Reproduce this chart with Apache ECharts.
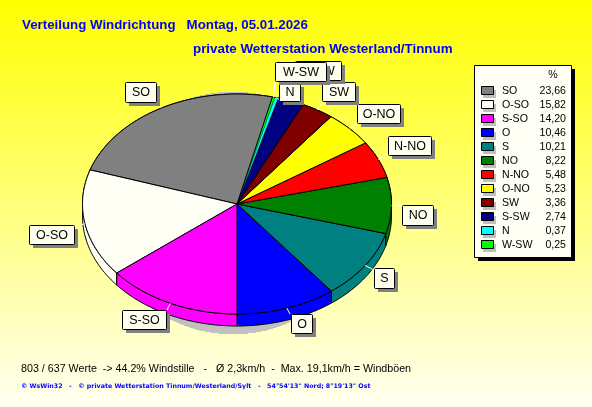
<!DOCTYPE html>
<html><head><meta charset="utf-8">
<style>html,body{margin:0;padding:0;background:#fff}#c{width:592px;height:407px}</style>
<script src="https://cdn.jsdelivr.net/npm/echarts@6/dist/echarts.min.js"></script>
</head><body><div id="c"></div>
<script>
// ---- data ----
const legendOrder = ['SO','O-SO','S-SO','O','S','NO','N-NO','O-NO','SW','S-SW','N','W-SW'];
const legendValues = ['23,66','15,82','14,20','10,46','10,21','8,22','5,48','5,23','3,36','2,74','0,37','0,25'];
const sliceOrder = ['O','S','NO','N-NO','O-NO','SW','S-SW','N','W-SW','SO','O-SO','S-SO'];
const shares = {'SO':23.66,'O-SO':15.82,'S-SO':14.20,'O':10.46,'S':10.21,'NO':8.22,'N-NO':5.48,'O-NO':5.23,'SW':3.36,'S-SW':2.74,'N':0.37,'W-SW':0.25};
const titleLine1 = 'Verteilung Windrichtung   Montag, 05.01.2026';
const titleLine2 = 'private Wetterstation Westerland/Tinnum';
const footerLine1 = '803 / 637 Werte  -> 44.2% Windstille   -   Ø 2,3km/h  -  Max. 19,1km/h = Windböen';
const footerLine2 = '© WsWin32   -   © private Wetterstation Tinnum/Westerland/Sylt   -   54°54\'13" Nord; 8°19\'13" Ost';

// ---- styles / layout ----
const colors = {'SO':'#808080','O-SO':'#fffff5','S-SO':'#ff00ff','O':'#0000ff','S':'#008080','NO':'#008000','N-NO':'#ff0000','O-NO':'#ffff00','SW':'#800000','S-SW':'#000080','N':'#00ffff','W-SW':'#00ff00'};
const labelBoxes = { // x0,y0,x1,y1, leader end x,y
 'O':[291,314,312,333,290,314],'S':[374,268,394,288,374,270],'NO':[402,205,433,225,402,205],
 'N-NO':[388,136,431,155,388,153],'O-NO':[357,104,400,123,357,124],'SW':[322,82,355,101,323,101],
 'S-SW':[295,61,341,80,305,80],'N':[279,83,300,101,281,101],'W-SW':[275,62,326,81,275,81],
 'SO':[125,82,156,102,156,101],'O-SO':[29,225,74,244,74,226],'S-SO':[122,310,166,329,167,310]
};
const FONT='"Liberation Sans",Arial,sans-serif';
const DEPTH=12;
const cx=237, cy=204, rx=154.5, ry=110;

const total=sliceOrder.reduce((s,n)=>s+shares[n],0);
let acc=0;
const sliceData=sliceOrder.map((n,i)=>{const a=acc/total*2*Math.PI;acc+=shares[n];return [a,acc/total*2*Math.PI,i];});

function rim(api,t){return api.coord([Math.sin(t),Math.cos(t)]);}
function arcPts(api,a,b){const n=Math.max(2,Math.ceil((b-a)/0.02));const p=[];for(let i=0;i<=n;i++)p.push(rim(api,a+(b-a)*i/n));return p;}

const renderWall=(params,api)=>{
  const a=api.value(0),b=api.value(1),c=colors[sliceOrder[api.value(2)]];
  const top=arcPts(api,a,b);
  const low=top.map(p=>[p[0],p[1]+DEPTH]).reverse();
  return {type:'polygon',shape:{points:top.concat(low)},style:{fill:c,stroke:'#000',lineWidth:1}};
};
const renderTop=(params,api)=>{
  const a=api.value(0),b=api.value(1),n=sliceOrder[api.value(2)],c=colors[n];
  const pts=[api.coord([0,0])].concat(arcPts(api,a,b));
  return {type:'polygon',shape:{points:pts},style:{fill:c,stroke:'#000',lineWidth:shares[n]<1?0.35:1}};
};
const renderShadow=(params,api)=>{
  const c=api.coord([0,0]);
  const p=[];for(let i=0;i<120;i++){const t=i/120*2*Math.PI;p.push([c[0]-4+130*Math.sin(t),c[1]+9+121*Math.cos(t)]);}
  return {type:'polygon',shape:{points:p},style:{fill:'#c0c0c0'}};
};
const renderLeader=(params,api)=>{
  const a=api.value(0),b=api.value(1),n=sliceOrder[api.value(2)],m=rim(api,(a+b)/2),l=labelBoxes[n];
  return {type:'line',shape:{x1:m[0],y1:m[1],x2:l[4],y2:l[5]},style:{stroke:'#fff',lineWidth:1}};
};
const renderLabel=(params,api)=>{
  const n=sliceOrder[api.value(2)],l=labelBoxes[n];
  const w=l[2]-l[0],h=l[3]-l[1];
  return {type:'group',children:[
    {type:'rect',shape:{x:l[0]+4,y:l[1]+4,width:w,height:h},style:{fill:'#808080'}},
    {type:'rect',shape:{x:l[0]+.5,y:l[1]+.5,width:w,height:h,r:1},style:{fill:'#fffff0',stroke:'#000',lineWidth:1}},
    {type:'text',style:{x:l[0]+w/2+.5,y:l[1]+h/2+1,text:n,fill:'#000',font:'12.5px '+FONT,align:'center',verticalAlign:'middle'}}
  ]};
};
const custom=(renderItem,z)=>({type:'custom',coordinateSystem:'cartesian2d',renderItem,data:sliceData,clip:false,silent:true,z,animation:false,encode:{x:0,y:1}});

// legend drawn from the arrays
const LX=474,LY=65,LR=571,LB=257,ROW0=91,ROWH=14;
const g=[];
const txt=(x,y,text,o)=>({type:'text',silent:true,x,y,style:Object.assign({text,fill:'#000',font:'10.6px '+FONT,verticalAlign:'middle'},o||{}),z:20});
g.push({type:'rect',silent:true,shape:{x:LX+4,y:LY+4,width:LR-LX,height:LB-LY},style:{fill:'#000'},z:18});
g.push({type:'rect',silent:true,shape:{x:LX+.5,y:LY+.5,width:LR-LX,height:LB-LY},style:{fill:'#fffff5',stroke:'#000',lineWidth:1},z:19});
g.push(txt(553,75,'%',{align:'center',font:'10.6px '+FONT}));
legendOrder.forEach((n,i)=>{
  const y=ROW0+i*ROWH;
  g.push({type:'rect',silent:true,shape:{x:483,y:y-1,width:13,height:8},style:{fill:'#c0c0c0'},z:20});
  g.push({type:'rect',silent:true,shape:{x:481.5,y:y-4.5,width:12,height:8},style:{fill:colors[n],stroke:'#000',lineWidth:1},z:21});
  g.push(txt(502,y,n));
  g.push(txt(566,y,legendValues[i],{align:'right'}));
});
g.push(txt(22,25,titleLine1,{fill:'#0000ff',font:'bold 13.3px '+FONT}));
g.push(txt(193,49,titleLine2,{fill:'#0000ff',font:'bold 13.35px '+FONT}));
g.push(txt(21,369,footerLine1,{font:'10.7px '+FONT}));
g.push(txt(21,386,footerLine2,{fill:'#0000ff',font:'bold 6.3px "DejaVu Sans",sans-serif'}));

const chart=echarts.init(document.getElementById('c'),null,{renderer:'canvas',width:592,height:407});
chart.setOption({
  animation:false,
  backgroundColor:{type:'linear',x:0,y:0,x2:0,y2:1,colorStops:[{offset:0,color:'#ffff00'},{offset:1,color:'#fffff2'}]},
  grid:{left:cx-rx,top:cy-ry,width:2*rx,height:2*ry},
  xAxis:{type:'value',min:-1,max:1,show:false},
  yAxis:{type:'value',min:-1,max:1,inverse:true,show:false},
  graphic:g,
  series:[custom(renderShadow,1),custom(renderWall,2),custom(renderTop,3),custom(renderLeader,4),custom(renderLabel,5)]
});
</script></body></html>
